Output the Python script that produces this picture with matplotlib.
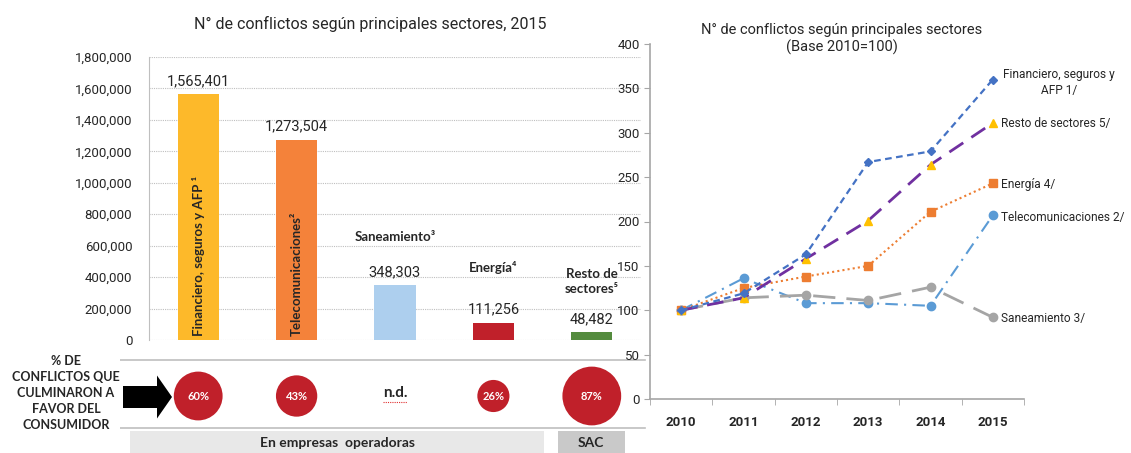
import matplotlib
matplotlib.use("Agg")
import matplotlib.pyplot as plt
from matplotlib.patches import Circle, Rectangle, FancyArrow
from matplotlib.ticker import FuncFormatter, FixedLocator

NARROW = ["Liberation Sans Narrow", "Roboto", "DejaVu Sans"]
BOLDF = ["Lato", "DejaVu Sans"]
DARK = "#262626"
plt.rcParams.update({"font.family": NARROW, "font.size": 10})

# left chart: conflicts 2015 by sector
sectors = ["Financiero, seguros y AFP \u00b9", "Telecomunicaciones\u00b2", "Saneamiento\u00b3",
           "Energ\u00eda\u2074", "Resto de\nsectores\u2075"]
conflicts = [1565401, 1273504, 348303, 111256, 48482]
bar_colors = ["#FDB92A", "#F4823A", "#ADCFEE", "#C0202A", "#548B3E"]
pct_favor = [60, 43, None, 26, 87]

# right chart: index base 2010=100
years = ["2010", "2011", "2012", "2013", "2014", "2015"]
idx_fin = [100, 119, 163, 267, 279, 360]
idx_resto = [100, 114, 158, 201, 264, 311]
idx_ener = [100, 125, 138, 150, 211, 243]
idx_tel = [100, 136, 108, 108, 105, 207]
idx_san = [100, 114, 117, 111, 126, 92]

W, H = 1131, 453
fig = plt.figure(figsize=(W / 100, H / 100), dpi=100)

def box(x0, x1, ytop, ybot):
    return [x0 / W, 1 - ybot / H, (x1 - x0) / W, (ybot - ytop) / H]

# ---------- left bar chart ----------
ax = fig.add_axes(box(149, 641, 57, 340))
xs = list(range(len(sectors)))
ax.bar(xs, conflicts, width=0.42, color=bar_colors, zorder=3)
ax.set_xlim(-0.5, 4.5)
ax.set_ylim(0, 1800000)
ax.set_yticks(range(0, 1800001, 200000))
ax.yaxis.set_major_formatter(FuncFormatter(lambda v, p: f"{int(v):,}"))
ax.tick_params(axis="y", length=0, pad=12, labelsize=9.5, labelcolor=DARK)
ax.set_xticks([])
ax.grid(axis="y", color="#BFBFBF", ls=(0, (1, 1)), lw=0.8)
for s in ("top", "right", "bottom"):
    ax.spines[s].set_visible(False)
ax.spines["left"].set_linestyle((0, (1, 1)))
ax.spines["left"].set_color("#BFBFBF")
fig.text(370 / W, 1 - 24 / H, "N\u00b0 de conflictos seg\u00fan principales sectores, 2015",
         fontsize=11.5, color=DARK, ha="center", va="center")

name_off = [None, None, 48, 55, 51]
for i, (v, name) in enumerate(zip(conflicts, sectors)):
    ax.annotate(f"{v:,}", (i, v), xytext=(0, 6), textcoords="offset pixels",
                ha="center", va="bottom", fontsize=10.5, color=DARK)
    if name_off[i] is None:
        ax.text(i, 25000, name, rotation=90, ha="center", va="bottom",
                fontsize=9.5, fontweight="bold", family=BOLDF, color=DARK, zorder=4)
    else:
        ax.annotate(name, (i, v), xytext=(0, name_off[i]), textcoords="offset pixels",
                    ha="center", va="center", fontsize=9.5, fontweight="bold",
                    family=BOLDF, color=DARK, linespacing=1.3)

# ---------- right line chart ----------
ax2 = fig.add_axes(box(650, 1024, 44, 399))
xi = range(len(years))
ax2.plot(xi, idx_tel, color="#5B9BD5", ls=(0, (6, 3, 1, 3)), lw=1.5, marker="o", ms=6)
ax2.plot(xi, idx_san, color="#A5A5A5", ls=(0, (8, 4)), lw=2, marker="o", ms=6)
ax2.plot(xi, idx_ener, color="#ED7D31", ls=(0, (1, 1.5)), lw=1.5, marker="s", ms=6)
ax2.plot(xi, idx_resto, color="#7030A0", ls=(0, (6, 3.5)), lw=2, marker="^", ms=6,
         mfc="#FFC000", mec="#FFC000")
ax2.plot(xi, idx_fin, color="#4472C4", ls=(0, (3, 2)), lw=1.6, marker="D", ms=4.5)
ax2.set_xlim(-0.5, 5.5)
ax2.set_ylim(0, 400)
ax2.set_yticks(range(0, 401, 50))
ax2.set_xticks(list(xi))
ax2.set_xticklabels(years, fontweight="bold")
ax2.xaxis.set_minor_locator(FixedLocator([i - 0.5 for i in range(7)]))
ax2.tick_params(axis="x", which="major", length=0, pad=12, labelsize=9.5, labelcolor=DARK)
ax2.tick_params(axis="x", which="minor", length=4, color="#A6A6A6")
ax2.tick_params(axis="y", length=4, color="#A6A6A6", labelsize=9.5, labelcolor=DARK)
for s in ("top", "right"):
    ax2.spines[s].set_visible(False)
for s in ("left", "bottom"):
    ax2.spines[s].set_color("#A6A6A6")
    ax2.spines[s].set_linewidth(1.2)
fig.text(842 / W, 1 - 39 / H, "N\u00b0 de conflictos seg\u00fan principales sectores\n(Base 2010=100)",
         fontsize=10.5, color=DARK, ha="center", va="center", linespacing=1.25)
lab = dict(fontsize=8.6, color=DARK, clip_on=False)
ax2.text(6.06, 357, "Financiero, seguros y\nAFP 1/", ha="center", va="center",
         linespacing=1.3, **lab)
ax2.text(5.13, 310, "Resto de sectores 5/", ha="left", va="center", **lab)
ax2.text(5.13, 242, "Energ\u00eda 4/", ha="left", va="center", **lab)
ax2.text(5.13, 205, "Telecomunicaciones 2/", ha="left", va="center", **lab)
ax2.text(5.13, 91, "Saneamiento 3/", ha="left", va="center", **lab)

# ---------- bottom strip (pixel coordinates) ----------
bx = fig.add_axes([0, 0, 1, 1], zorder=-1)
bx.set_xlim(0, W)
bx.set_ylim(H, 0)
bx.axis("off")
bx.plot([80, 645], [360, 360], color="#BFBFBF", lw=1.2)
bx.plot([112, 645], [428, 428], color="#BFBFBF", lw=1.2)
bx.add_patch(Rectangle((130, 431), 414, 25, color="#E8E8E8", lw=0))
bx.add_patch(Rectangle((558, 431), 67, 25, color="#C9C9C9", lw=0))
bx.text(337, 443, "En empresas  operadoras", ha="center", va="center", fontsize=10,
        fontweight="bold", family=BOLDF, color=DARK)
bx.text(591, 443, "SAC", ha="center", va="center", fontsize=10,
        fontweight="bold", family=BOLDF, color=DARK)
bx.text(66, 393, "% DE\nCONFLICTOS QUE\nCULMINARON A\nFAVOR DEL\nCONSUMIDOR", ha="center",
        va="center", fontsize=9, fontweight="bold", family=BOLDF, color=DARK,
        linespacing=1.4, bbox=dict(fc="white", ec="none", pad=0))
bx.add_patch(FancyArrow(123, 397, 34, 0, width=22, head_width=43, head_length=15,
                        length_includes_head=False, color="black", lw=0))

# circle centres follow the bar positions of the left chart
for i, p in enumerate(pct_favor):
    xpix = ax.transData.transform((i, 0))[0]
    if p is None:
        bx.text(xpix, 393, "n.d.", ha="center", va="center", fontsize=11,
                fontweight="bold", family=BOLDF, color=DARK)
        bx.plot([xpix - 12, xpix + 12], [402, 402], color="#E03030", lw=0.8,
                ls=(0, (1, 1)))
        continue
    r = 3.15 * p ** 0.5
    bx.add_patch(Circle((xpix, 396), r, color="#C0202A", lw=0))
    bx.text(xpix, 396, f"{p}%", ha="center", va="center", fontsize=8,
            fontweight="bold", family=BOLDF, color="white")

fig.savefig("out.png", dpi=100)
